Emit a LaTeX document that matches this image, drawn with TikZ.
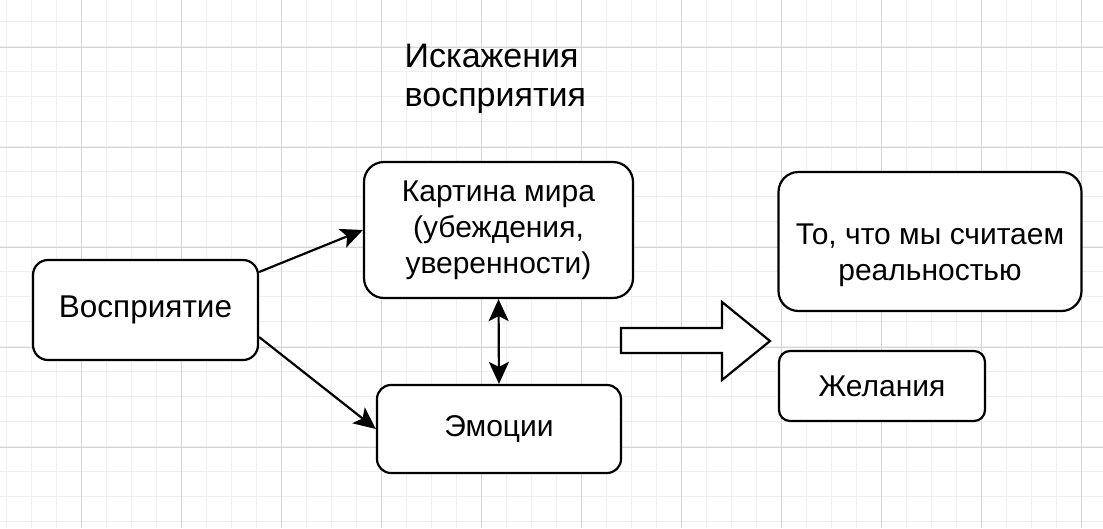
\documentclass[tikz,border=0pt]{standalone}
\usepackage{fontspec}
\setmainfont{Liberation Sans}
\usetikzlibrary{arrows.meta}
\definecolor{minorgrid}{HTML}{EFEFEF}
\definecolor{majorgrid}{HTML}{D6D6D6}
\begin{document}
\begin{tikzpicture}[x=1pt,y=-1pt,
  box/.style={draw=black,line width=2.2pt,rounded corners=#1,align=center,
    font=\fontsize{30}{36}\selectfont,inner sep=0pt,fill=white},
  conn/.style={line width=2.2pt,-{Stealth[length=22pt,width=20pt,inset=5pt]}},
  dconn/.style={line width=2.2pt,{Stealth[length=22pt,width=20pt,inset=5pt]}-{Stealth[length=22pt,width=20pt,inset=5pt]}},
  blockarrow/.style={draw=black,line width=2.2pt,fill=white,line join=miter}]
\useasboundingbox (0,0) rectangle (1103,528);
\fill[white] (0,0) rectangle (1103,528);
% grid
\foreach \gx in {6.7,31.7,...,1103} \draw[minorgrid,line width=1pt] (\gx,0) -- (\gx,528);
\foreach \gy in {21.7,46.7,...,528} \draw[minorgrid,line width=1pt] (0,\gy) -- (1103,\gy);
\foreach \gx in {81.7,181.7,...,1103} \draw[majorgrid,line width=1pt] (\gx,0) -- (\gx,528);
\foreach \gy in {47.3,147.3,...,528} \draw[majorgrid,line width=1pt] (0,\gy) -- (1103,\gy);

\node[font=\fontsize{34}{39}\selectfont,align=left,anchor=base west,inner sep=0pt] (title) at (404.5,106.7) {Искажения\\восприятия};

\node[box=15pt,minimum width=225pt,minimum height=100pt,font=\fontsize{31.5}{36}\selectfont] (perc) at (145.5,310) {Восприятие};
\node[box=20pt,minimum width=269pt,minimum height=136pt] (world) at (498.5,230) {Картина мира\\(убеждения,\\уверенности)};
\node[box=14pt,minimum width=244pt,minimum height=88pt] (emo) at (499,429) {Эмоции};
\node[box=20pt,minimum width=303pt,minimum height=139pt,text depth=0pt] (real) at (930,241.5) {\raisebox{-3pt}{\parbox{290pt}{\centering То, что мы считаем\\реальностью}}};
\node[box=11pt,minimum width=206pt,minimum height=70pt] (wish) at (882,386) {Желания};

\draw[conn] ([yshift=38pt]perc.east) -- (world.west);
\draw[conn] ([yshift=-27pt]perc.east) -- (emo.west);
\draw[dconn] (world.south) -- (emo.north);

\draw[blockarrow] (621,328) -- (722,328) -- (722,302) -- (770,341) -- (722,380) -- (722,353) -- (621,353) -- cycle;
\end{tikzpicture}
\end{document}
